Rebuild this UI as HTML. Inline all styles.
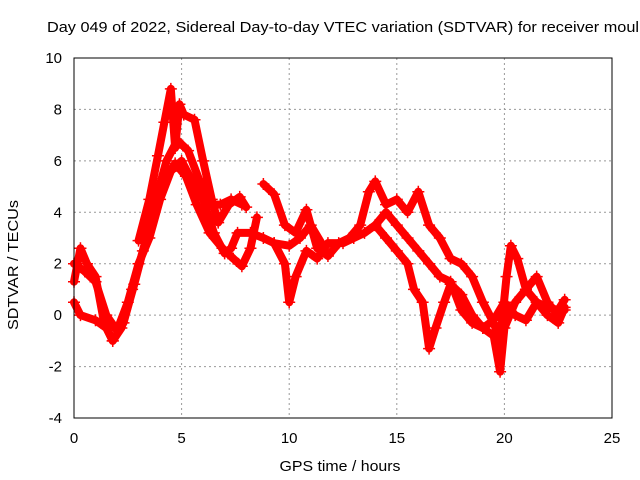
<!DOCTYPE html>
<html><head><meta charset="utf-8"><style>
body{margin:0;background:#fff;}
svg{display:block;font-family:"Liberation Sans",sans-serif;}
</style></head><body>
<svg id="chart" width="640" height="480">
<text x="47" y="32" font-size="15" textLength="592" lengthAdjust="spacingAndGlyphs">Day 049 of 2022, Sidereal Day-to-day VTEC variation (SDTVAR) for receiver moul</text>
<g id="grid"></g>
<g id="series"></g>
<rect x="74" y="58" width="538" height="360" fill="none" stroke="#000" stroke-width="1"/>
<g id="ticks"></g>
<text x="340" y="471" font-size="15" textLength="121" lengthAdjust="spacingAndGlyphs" text-anchor="middle">GPS time / hours</text>
<text transform="translate(18,265) rotate(-90)" font-size="15" textLength="130" lengthAdjust="spacingAndGlyphs" text-anchor="middle">SDTVAR / TECUs</text>
</svg>
<script>
const xTicks=[0,5,10,15,20,25];
const yTicks=[-4,-2,0,2,4,6,8,10];
const s1=[[0,0.5],[0.3,0],[1,-0.2],[1.5,-0.5],[1.8,-1],[2.3,-0.3],[2.8,1.2],[3.3,2.8],[3.8,4.5],[4.3,6],[4.8,6.8],[5.3,6.4],[5.8,5.3],[6.3,4.3],[6.8,4.3],[7.3,4.5],[7.8,4.3]];
const s2=[[0,1.3],[0.3,2.6],[0.6,2],[1,1.5],[1.4,-0.3],[1.8,-1],[2.2,-0.5],[2.7,1],[3.2,2.5],[3.7,4],[4.2,5.2],[4.7,5.9],[5.2,5.4],[5.7,4.3],[6.3,3.2],[6.9,2.6],[7.4,2.2],[7.8,1.9],[8.2,2.6],[8.5,3.8]];
const s3=[[0,2],[0.5,1.7],[1,1.3],[1.5,0],[2,-0.6],[2.5,0.5],[3,2],[3.5,3],[4,4.5],[4.5,5.6],[5,6],[5.5,5.2],[6,4.5],[6.5,3.2],[7,2.4],[7.3,2.6],[7.6,3.2],[8.2,3.2],[8.8,3],[9.3,2.8],[10,2.7],[10.5,3],[11,3.5],[11.5,2.8]];
const s4=[[3,2.9],[3.5,4.5],[3.9,6.2],[4.2,7.5],[4.5,8.8],[4.7,6.5],[4.9,8.2],[5.1,7.8],[5.6,7.6],[6,6],[6.4,4.5],[6.7,3.6],[7.2,4.3],[7.7,4.6],[8,4.2]];
const s5=[[8.8,5.1],[9.3,4.7],[9.8,3.5],[10.3,3.2],[10.8,4.1],[11.3,2.6],[11.8,2.3],[12.3,2.8],[12.8,3],[13.3,3.5],[13.7,4.8],[14,5.2],[14.5,4.3],[15,4.5],[15.5,4],[16,4.8],[16.5,3.5],[17,3],[17.5,2.2],[18,2],[18.5,1.5],[19,0.5],[19.5,-0.3],[19.8,-1],[20.1,1.5],[20.3,2.7],[20.6,2.2],[21,1],[21.5,0.5],[22,0.3],[22.5,0.2],[22.8,0.6]];
const s6=[[9.3,2.8],[9.8,2],[10,0.5],[10.3,1.5],[10.8,2.5],[11.3,2.2],[11.8,2.8],[12.5,2.8],[13,3],[13.5,3.2],[14,3.5],[14.5,3],[15,2.5],[15.5,2],[15.8,1],[16.2,0.5],[16.5,-1.3],[16.8,-0.5],[17.2,0.5],[17.5,1.2],[18,0.8],[18.5,0],[19,-0.5],[19.5,-0.8],[19.8,-2.2],[20,-0.5],[20.5,0.5],[21,1],[21.5,1.5],[22,0.5],[22.5,0],[22.8,0.2]];
const s7=[[14,3.5],[14.5,4],[15,3.5],[15.5,3],[16,2.5],[16.5,2],[17,1.5],[17.5,1.3],[18,0.2],[18.5,-0.3],[19,-0.5],[19.5,-0.2],[20,0.5],[20.5,0],[21,-0.2],[21.5,0.5],[22,0],[22.5,-0.3],[22.8,0.3]];
const allSeries=[s1,s2,s3,s4,s5,s6,s7];
const X=t=>74+t*(538/25);
const Y=v=>418-(v+4)*(360/14);
const NS='http://www.w3.org/2000/svg';
const grid=document.getElementById('grid'),ticks=document.getElementById('ticks'),ser=document.getElementById('series');
function mk(tag,attrs,parent){const e=document.createElementNS(NS,tag);for(const k in attrs)e.setAttribute(k,attrs[k]);parent.appendChild(e);return e;}
xTicks.forEach(t=>{
 if(t>0&&t<25){const g=mk('line',{x1:X(t),x2:X(t),y1:58,y2:418,stroke:'#999','stroke-dasharray':'2,3'},grid);
 
 }
 const l=mk('text',{x:X(t),y:443,'font-size':15,'text-anchor':'middle'},ticks);l.textContent=t;
 
 
});
yTicks.forEach(v=>{
 if(v>-4&&v<10){const g=mk('line',{x1:74,x2:612,y1:Y(v),y2:Y(v),stroke:'#999','stroke-dasharray':'2,3'},grid);
 
 }
 const l=mk('text',{x:62,y:Y(v)+5,'font-size':15,'text-anchor':'end'},ticks);l.textContent=v;
 
 
});
allSeries.forEach((s,i)=>{
 const p=mk('polyline',{points:s.map(d=>X(d[0])+','+Y(d[1])).join(' '),fill:'none',stroke:'#f00','stroke-width':8,'stroke-linejoin':'round','stroke-linecap':'round'},ser);
 
 
 s.forEach(d=>{
  const m=mk('path',{d:`M${X(d[0])-6},${Y(d[1])}h12M${X(d[0])},${Y(d[1])-6}v12`,stroke:'#f00','stroke-width':1.5},ser);
  
  
 });
});
</script>
</body></html>
